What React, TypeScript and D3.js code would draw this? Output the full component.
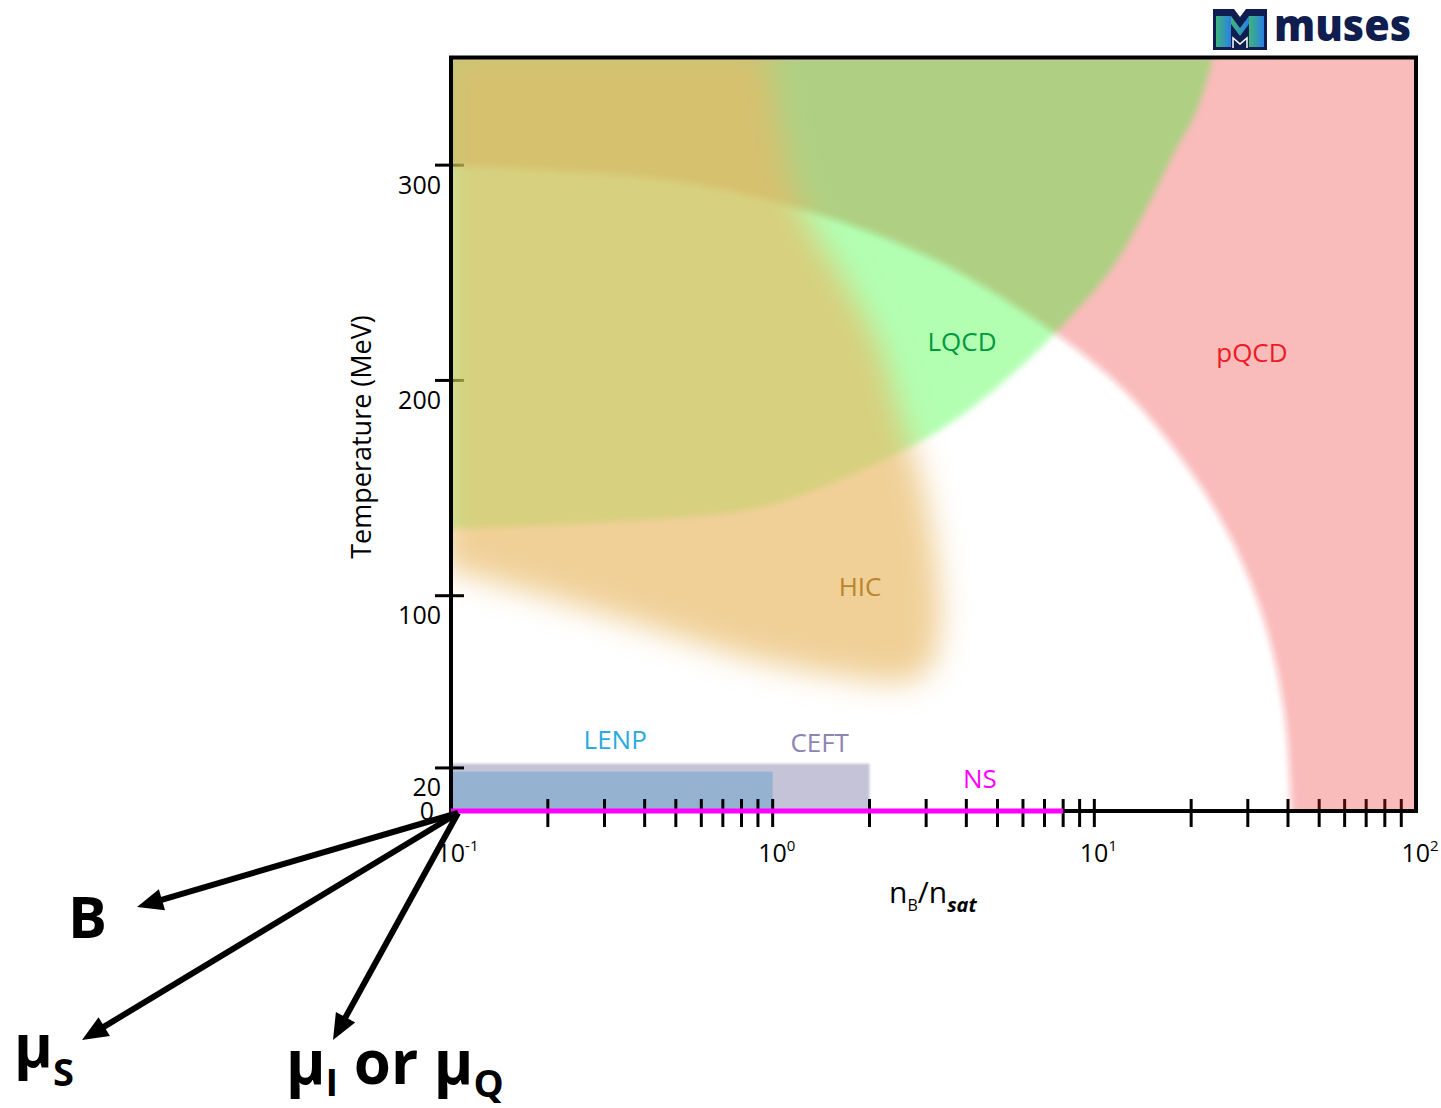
import React from "react";
import * as d3 from "d3";

const W = 1441;
const H = 1108;

// Axis ticks
const xMinorTicks = [0.2, 0.3, 0.4, 0.5, 0.6, 0.7, 0.8, 0.9, 1, 2, 3, 4, 5, 6, 7, 8, 9, 10, 20, 30, 40, 50, 60, 70, 80, 90];
const xDecades = [0.1, 1, 10, 100];
const xDecadeExponents = ["-1", "0", "1", "2"];
const yTickMarks = [20, 100, 200, 300];
const yTickLabels = [0, 20, 100, 200, 300];

// Region boundaries as [n_B/n_sat, T in MeV]
const pqcdBoundary: [number, number][] = [
  [0.08, 300], [0.1, 300], [0.49, 293], [1.27, 279], [3.2, 256], [6.0, 232],
  [9.8, 209], [14.2, 186], [24, 139], [33, 93], [39, 46], [41, 0], [41.5, -12],
];
const lqcdBoundary: [number, number][] = [
  [0.097, 131], [0.29, 134], [0.91, 141], [1.87, 158], [3.31, 177], [5.09, 198],
  [7.44, 221], [11.2, 251], [14.2, 277], [17.6, 305], [20.9, 326], [23.4, 350],
];
const hicBoundary: [number, number][] = [
  [0.96, 354], [1.2, 284], [1.66, 247], [2.1, 219], [2.52, 182], [2.9, 154],
  [3.22, 117], [3.32, 89], [3.1, 67], [2.6, 60], [1.74, 62], [0.85, 71],
  [0.416, 85], [0.203, 99], [0.0945, 113],
];

// Low-temperature bands: [n_min, n_max, T_max]
const ceftBand = [0.1, 2, 22];
const lenpBand = [0.1, 1, 18.3];
// Neutron-star line along T = 0
const nsRange = [0.1, 8];

// Region labels: [name, n, T, colour]
const regionLabels: [string, number, number, string][] = [
  ["LQCD", 3.88, 218, "#009a3e"],
  ["pQCD", 30.9, 213, "#ed1c24"],
  ["HIC", 1.87, 104, "#b8862b"],
  ["LENP", 0.324, 33, "#29abe2"],
  ["CEFT", 1.4, 31.6, "#8c84b4"],
  ["NS", 4.41, 15, "#ff00ff"],
];

const FONT = "'Open Sans', 'Noto Sans', sans-serif";

function Arrow({ from, to }: { from: [number, number]; to: [number, number] }) {
  const dx = to[0] - from[0];
  const dy = to[1] - from[1];
  const len = Math.hypot(dx, dy);
  const ux = dx / len;
  const uy = dy / len;
  const headLen = 26;
  const headHalf = 11;
  const bx = to[0] - ux * headLen;
  const by = to[1] - uy * headLen;
  const nx = -uy;
  const ny = ux;
  const head = [
    [to[0], to[1]],
    [bx + nx * headHalf, by + ny * headHalf],
    [bx - nx * headHalf, by - ny * headHalf],
  ];
  return (
    <g>
      <line x1={from[0]} y1={from[1]} x2={bx + ux * 4} y2={by + uy * 4} stroke="#000" strokeWidth={6} />
      <polygon points={head.map((p) => p.join(",")).join(" ")} fill="#000" />
    </g>
  );
}

export default function App() {
  const x = d3.scaleLog().domain([0.1, 100]).range([451, 1416]);
  const y = d3.scaleLinear().domain([0, 350]).range([811, 57.5]);
  const toPx = (p: [number, number]): [number, number] => [x(p[0]), y(p[1])];
  const curve = d3.line<[number, number]>().curve(d3.curveCatmullRom.alpha(0.5));

  const pqcdPath =
    curve(pqcdBoundary.map(toPx)) +
    `L${x(130)},${y(-12)}L${x(130)},${y(370)}L${x(0.08)},${y(370)}Z`;
  const lqcdPath = curve(lqcdBoundary.map(toPx)) + `L${x(0.097)},${y(350)}Z`;
  const hicPath =
    `M${x(0.0945)},${y(354)}` + (curve(hicBoundary.map(toPx)) as string).replace(/^M/, "L") + "Z";

  const x0 = x(0.1);
  const x1 = x(100);
  const yTop = y(350);
  const yBot = y(0);

  const origin: [number, number] = [458, 813];

  return (
    <svg
      width={W}
      height={H}
      viewBox={`0 0 ${W} ${H}`}
      style={{ position: "absolute", left: 0, top: 0, display: "block", background: "#fff" }}
      fontFamily={FONT}
    >
      <defs>
        <clipPath id="plotClip">
          <rect x={x0} y={yTop} width={x1 - x0} height={yBot - yTop} />
        </clipPath>
        <filter id="blurSoft" filterUnits="userSpaceOnUse" x={0} y={0} width={W} height={H}>
          <feGaussianBlur stdDeviation={3} />
        </filter>
        <filter id="blurBand" filterUnits="userSpaceOnUse" x={0} y={0} width={W} height={H}>
          <feGaussianBlur stdDeviation={1.2} />
        </filter>
        <filter id="blurWide" filterUnits="userSpaceOnUse" x={0} y={0} width={W} height={H}>
          <feGaussianBlur stdDeviation={15} />
        </filter>
        <linearGradient id="logoGrad" x1="0" x2="1" y1="0" y2="0">
          <stop offset="0" stopColor="#3db57a" />
          <stop offset="1" stopColor="#2a7fe6" />
        </linearGradient>
      </defs>

      <rect x={0} y={0} width={W} height={H} fill="#fff" />

      {/* low-temperature bands */}
      <g clipPath="url(#plotClip)">
        <rect
          x={x(ceftBand[0]) - 6}
          y={y(ceftBand[2])}
          width={x(ceftBand[1]) - x(ceftBand[0]) + 6}
          height={y(0) - y(ceftBand[2]) + 6}
          fill="#c5c3d8"
          filter="url(#blurBand)"
        />
        <rect
          x={x(lenpBand[0]) - 6}
          y={y(lenpBand[2])}
          width={x(lenpBand[1]) - x(lenpBand[0]) + 6}
          height={y(0) - y(lenpBand[2]) + 6}
          fill="#95b2d1"
        />
      </g>

      {/* ticks */}
      {xMinorTicks.map((v) => (
        <line key={`xt${v}`} x1={x(v)} x2={x(v)} y1={yBot - 12} y2={yBot + 16} stroke="#000" strokeWidth={3} />
      ))}
      {yTickMarks.map((v) => (
        <line key={`yt${v}`} x1={x0 - 16} x2={x0 + 13} y1={y(v)} y2={y(v)} stroke="#000" strokeWidth={3} />
      ))}

      {/* theory / experiment regions */}
      <g clipPath="url(#plotClip)">
        <path d={pqcdPath} fill="rgb(237,28,36)" fillOpacity={0.3} filter="url(#blurSoft)" />
        <path d={lqcdPath} fill="rgb(0,255,0)" fillOpacity={0.3} filter="url(#blurSoft)" />
        <path d={hicPath} fill="rgb(233,185,101)" fillOpacity={0.67} filter="url(#blurWide)" />
      </g>

      {/* frame */}
      <rect x={x0} y={yTop} width={x1 - x0} height={yBot - yTop} fill="none" stroke="#000" strokeWidth={4} />

      {/* neutron-star line */}
      <line x1={x(nsRange[0])} x2={x(nsRange[1])} y1={yBot} y2={yBot} stroke="#ff00ff" strokeWidth={5} />

      {/* y tick labels */}
      {yTickLabels.map((v) => (
        <text
          key={`yl${v}`}
          x={v === 0 ? x0 - 17 : x0 - 10}
          y={v === 0 ? yBot + 9 : y(v) + 28.5}
          textAnchor="end"
          fontSize={25}
          fill="#000"
        >
          {v}
        </text>
      ))}

      {/* x decade labels */}
      {xDecades.map((v, i) => (
        <text key={`xl${v}`} x={x(v) - 14.5} y={862} fontSize={25} fill="#000">
          10
          <tspan fontSize={15} dy={-11}>
            {xDecadeExponents[i]}
          </tspan>
        </text>
      ))}

      {/* axis titles */}
      <text x={889} y={903} fontSize={30} fill="#000">
        n
        <tspan fontSize={16} dy={8}>B</tspan>
        <tspan dy={-8}>/n</tspan>
        <tspan fontSize={20} fontStyle="italic" fontWeight={700} dy={9}>sat</tspan>
      </text>
      <text transform="translate(371,437) rotate(-90)" textAnchor="middle" fontSize={27} fill="#000">
        Temperature (MeV)
      </text>

      {/* region labels */}
      {regionLabels.map(([name, n, t, color]) => (
        <text key={name} x={x(n)} y={y(t)} dy="0.36em" textAnchor="middle" fontSize={26} fill={color}>
          {name}
        </text>
      ))}

      {/* extra chemical-potential directions */}
      <Arrow from={origin} to={[137, 907]} />
      <Arrow from={origin} to={[82, 1040]} />
      <Arrow from={origin} to={[333, 1040]} />

      <text x={68} y={938} fontSize={58} fontWeight={700} fill="#000">B</text>
      <text x={14} y={1067} fontSize={59} fontWeight={700} fill="#000">
        μ<tspan fontSize={38} dy={19}>S</tspan>
      </text>
      <text x={286} y={1084} fontSize={60} fontWeight={700} fill="#000">
        μ<tspan fontSize={38} dy={12}>I</tspan>
        <tspan dy={-12}> or μ</tspan>
        <tspan fontSize={38} dy={13}>Q</tspan>
      </text>

      {/* logo */}
      <g>
        <polygon
          points="1213,9 1234,9 1240,17 1246,9 1267,9 1267,50 1213,50"
          fill="#0f1e4f"
        />
        <polygon points="1216,16 1231,16 1231,47 1216,47" fill="url(#logoGrad)" />
        <polygon points="1249,16 1264,16 1264,47 1249,47" fill="url(#logoGrad)" />
        <polygon points="1231,16 1240,28 1249,16 1249,24 1240,36 1231,24" fill="url(#logoGrad)" />
        <polyline points="1233,48 1233,38 1240,44 1247,38 1247,48" fill="none" stroke="#fff" strokeWidth={1.5} />
        <text x={1274} y={41} fontSize={44} fontWeight={800} fill="#0f1e4f" textLength={137} lengthAdjust="spacingAndGlyphs">
          muses
        </text>
      </g>
    </svg>
  );
}
